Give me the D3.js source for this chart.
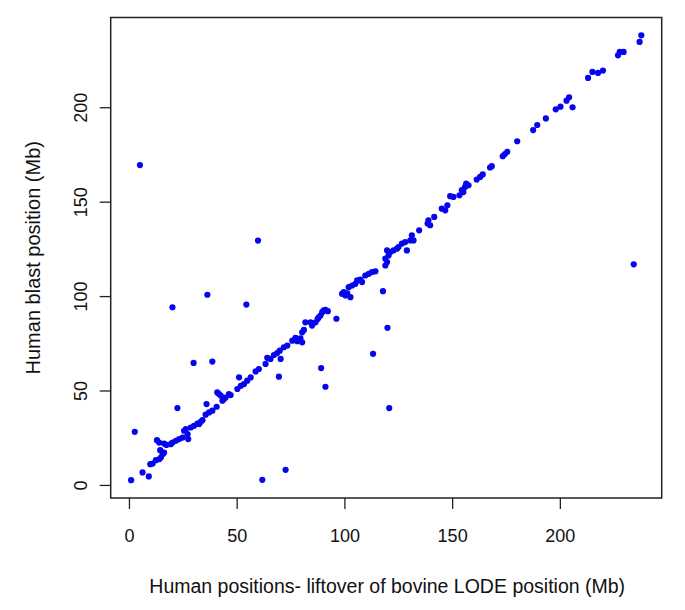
<!DOCTYPE html>
<html><head><meta charset="utf-8">
<script src="https://cdn.jsdelivr.net/npm/d3@7"></script>
<style>body{margin:0;background:#fff}svg text{font-family:"Liberation Sans",Arial,Helvetica,sans-serif;fill:#111}</style>
</head><body><svg id="c" width="685" height="610"></svg>
<script>
const xValues = [1.0,6.3,9.2,2.7,9.9,11.0,12.5,14.0,14.8,15.6,16.3,14.5,13.0,14.0,16.3,17.4,19.4,20.2,21.8,23.3,24.9,25.6,26.4,27.2,27.5,22.5,28.7,30.2,31.8,32.6,33.3,34.1,35.6,36.0,37.2,38.7,40.7,41.0,41.8,42.6,43.4,44.1,44.9,46.4,47.2,50.3,51.1,51.9,53.4,54.9,56.5,58.8,60.3,63.4,64.2,65.7,67.3,68.8,70.4,70.0,71.9,73.5,75.8,77.3,78.1,79.6,80.4,80.4,81.2,81.9,84.3,85.0,86.6,87.6,88.1,88.9,89.7,90.4,91.2,92.3,
5.1,59.9,20.2,36.4,54.5,30.0,38.7,61.9,72.7,69.6,89.2,91.2,96.3,113.3,117.9,120.0,120.8,234.3,
98.9,99.7,100.5,101.3,102.8,102.0,103.6,105.1,105.9,107.4,108.2,109.7,111.3,112.8,114.4,119.0,119.8,119.0,120.5,119.8,121.3,122.8,124.4,125.1,126.7,128.2,129.0,130.6,131.3,132.1,134.7,138.6,139.0,139.8,141.7,145.2,146.8,147.8,149.1,150.6,153.4,154.5,155.2,156.0,156.5,157.6,161.4,163.0,164.2,167.6,168.4,173.5,174.5,175.6,180.2,187.6,189.5,193.5,198.1,200.3,203.1,204.3,205.9,213.1,215.1,217.7,220.0,227.0,227.8,229.6,237.0,237.8];
const yValues = [2.5,6.6,4.5,28.1,11.0,11.3,13.1,13.6,14.5,16.3,17.1,18.4,23.7,22.4,21.9,21.2,21.6,22.4,23.4,24.3,25.1,28.7,29.6,26.9,24.3,40.7,30.4,31.3,32.5,32.2,33.4,34.3,37.2,42.8,38.4,39.3,41.4,49.0,48.1,47.3,44.6,45.5,46.3,48.1,47.6,50.8,57.0,52.5,53.4,55.2,56.9,60.1,61.4,64.1,67.3,66.7,68.8,69.8,66.7,71.1,72.9,73.8,76.4,77.9,76.1,77.6,75.5,80.8,82.1,86.1,86.1,84.4,86.1,87.9,88.8,89.7,91.5,92.4,92.7,92.0,
169.4,129.4,94.1,100.7,95.5,64.6,65.3,2.7,8.0,57.3,61.9,52.0,88.0,69.4,102.6,83.2,40.7,116.8,
101.2,102.1,100.3,101.5,99.4,104.7,105.6,106.5,108.3,108.7,107.4,110.9,111.8,112.7,113.1,116.2,118.0,119.8,121.5,124.2,123.3,124.2,125.1,126.0,127.8,128.6,124.2,129.5,132.2,129.5,134.8,138.4,140.1,137.5,141.9,146.3,145.4,148.1,152.9,152.5,153.4,156.1,155.1,157.8,159.6,158.7,161.7,163.1,164.4,168.1,168.8,174.1,175.2,176.4,182.0,187.9,190.6,194.1,198.9,200.3,203.5,205.3,200.0,215.5,218.7,218.2,219.4,227.5,229.3,229.3,234.6,238.1];
const xTicks = [0,50,100,150,200];
const yTicks = [0,50,100,150,200];
const xTitle = "Human positions- liftover of bovine LODE position (Mb)";
const yTitle = "Human blast position (Mb)";

const svg = d3.select("#c");
const L = 110.7, R = 661.7, T = 17.5, B = 498;
function padded(vals){ const e = d3.extent(vals); const p = (e[1]-e[0])*0.04; return [e[0]-p, e[1]+p]; }
const x = d3.scaleLinear().domain(padded(xValues)).range([L, R]);
const y = d3.scaleLinear().domain(padded(yValues)).range([B, T]);

// box
svg.append("rect").attr("x", L).attr("y", T).attr("width", R-L).attr("height", B-T)
  .attr("fill", "none").attr("stroke", "#222").attr("stroke-width", 1.5);

// x axis
const xa = svg.append("g").attr("transform", `translate(0,${B})`)
  .call(d3.axisBottom(x).tickValues(xTicks).tickSize(11).tickPadding(20).tickSizeOuter(0));
xa.select(".domain").remove();
xa.selectAll("line").attr("stroke", "#222").attr("stroke-width", 1.3);
xa.selectAll("text").attr("font-size", 18).attr("fill", "#111");

// y axis
const ya = svg.append("g").attr("transform", `translate(${L},0)`)
  .call(d3.axisLeft(y).tickValues(yTicks).tickSize(11).tickSizeOuter(0));
ya.select(".domain").remove();
ya.selectAll("line").attr("stroke", "#222").attr("stroke-width", 1.3);
ya.selectAll("text").attr("font-size", 18).attr("fill", "#111")
  .attr("text-anchor", "middle").attr("x", null).attr("dy", null)
  .attr("transform", "translate(-24,0) rotate(-90)").attr("dy", "0");

// points
svg.append("g").selectAll("circle").data(xValues.map((v,i)=>[v,yValues[i]])).join("circle")
  .attr("cx", d=>x(d[0])).attr("cy", d=>y(d[1])).attr("r", 3.1).attr("fill", "#0505ee");

// titles
svg.append("text").attr("x", (L+R)/2 + 1).attr("y", 593).attr("text-anchor", "middle")
  .attr("font-size", 19.5).text(xTitle);
svg.append("text").attr("transform", `translate(40,${(T+B)/2}) rotate(-90)`).attr("text-anchor", "middle")
  .attr("font-size", 20).text(yTitle);
</script>
</body></html>
